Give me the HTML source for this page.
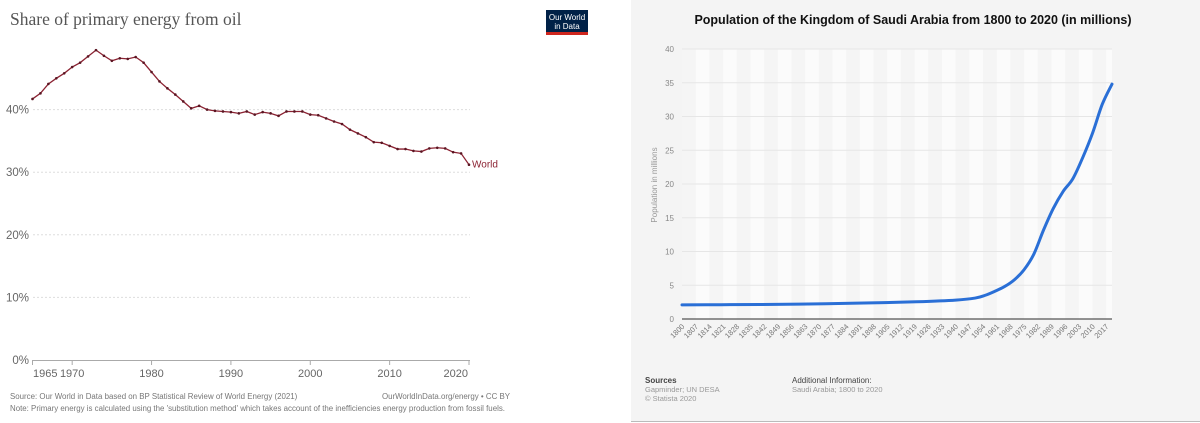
<!DOCTYPE html>
<html><head><meta charset="utf-8">
<style>
body{margin:0;width:1200px;height:423px;overflow:hidden;background:#fff;font-family:"Liberation Sans",sans-serif}
svg{position:absolute;left:0;top:0}
</style></head>
<body>
<svg width="1200" height="423" viewBox="0 0 1200 423">
<g id="left">
  <text x="10" y="25" font-family="Liberation Serif,serif" font-size="17.5" fill="#555">Share of primary energy from oil</text>
  <g>
    <rect x="546" y="10" width="42" height="25" fill="#002147"/>
    <rect x="546" y="32" width="42" height="3" fill="#ce261e"/>
    <text x="567" y="20" font-size="8" fill="#fff" text-anchor="middle">Our World</text>
    <text x="567" y="29" font-size="8" fill="#fff" text-anchor="middle">in Data</text>
  </g>
  <g id="lgrid"></g>
  <g id="lxt"></g>
  <path id="lline" fill="none" stroke="#8b2232" stroke-width="1.3"/>
  <g id="ldots"></g>
  <text id="llab" font-size="10" fill="#8b2232">World</text>
  <text x="10" y="399" font-size="7.9" fill="#777">Source: Our World in Data based on BP Statistical Review of World Energy (2021)</text>
  <text x="510" y="399" font-size="7.9" fill="#777" text-anchor="end">OurWorldInData.org/energy • CC BY</text>
  <text x="10" y="411" font-size="7.9" fill="#777">Note: Primary energy is calculated using the 'substitution method' which takes account of the inefficiencies energy production from fossil fuels.</text>
</g>
<g id="right">
  <rect x="631" y="0" width="569" height="421" fill="#f4f4f4"/>
  <line x1="631" y1="421.5" x2="1200" y2="421.5" stroke="#bbb"/>
  <text x="913" y="24" font-size="12.5" font-weight="bold" fill="#111" text-anchor="middle">Population of the Kingdom of Saudi Arabia from 1800 to 2020 (in millions)</text>
  <g id="rbands"></g>
  <g id="rgrid"></g>
  <g id="rxt"></g>
  <path id="rline" fill="none" stroke="#2a6fd6" stroke-width="3" stroke-linejoin="round" stroke-linecap="round"/>
  <text transform="translate(657,185) rotate(-90)" font-size="8" fill="#999" text-anchor="middle">Population in millions</text>
  <text x="645" y="383" font-size="8" font-weight="bold" fill="#444">Sources</text>
  <text x="645" y="392" font-size="7.5" fill="#999">Gapminder; UN DESA</text>
  <text x="645" y="401" font-size="7.5" fill="#999">© Statista 2020</text>
  <text x="792" y="383" font-size="8" fill="#444">Additional Information:</text>
  <text x="792" y="392" font-size="7.5" fill="#999">Saudi Arabia; 1800 to 2020</text>
</g>
</svg>
<script>
const NS="http://www.w3.org/2000/svg";
function mk(tag,attrs,parent){const e=document.createElementNS(NS,tag);for(const k in attrs)e.setAttribute(k,attrs[k]);parent.appendChild(e);return e;}
// ---- Left chart data ----
const oilYears=[];for(let y=1965;y<=2020;y++)oilYears.push(y);
const oilShare=[41.7,42.6,44.1,45.0,45.8,46.8,47.5,48.5,49.5,48.6,47.8,48.2,48.1,48.4,47.5,46.0,44.5,43.4,42.4,41.3,40.2,40.6,40.0,39.8,39.7,39.6,39.4,39.7,39.2,39.6,39.4,39.0,39.7,39.7,39.7,39.2,39.1,38.6,38.1,37.7,36.8,36.2,35.6,34.8,34.7,34.2,33.7,33.7,33.4,33.3,33.8,33.9,33.8,33.2,33.0,31.2];
const oilYTicks=[0,10,20,30,40];
const oilXTicks=[1965,1970,1980,1990,2000,2010,2020];
// ---- Right chart data ----
const popYears=[1800,1820,1840,1860,1880,1900,1920,1940,1950,1955,1960,1965,1970,1975,1980,1985,1990,1995,2000,2005,2010,2015,2020];
const popValues=[2.1,2.12,2.15,2.2,2.3,2.4,2.55,2.8,3.1,3.5,4.1,4.8,5.8,7.3,9.6,13.2,16.4,18.9,20.8,23.9,27.5,31.8,34.8];
const popYTicks=[0,5,10,15,20,25,30,35,40];
const popXTicks=[];for(let y=1800;y<=2017;y+=7)popXTicks.push(y);

// left axes
const lx=y=>32.5+(y-1965)*(469-32.5)/55;
const ly=v=>360-v*6.26;
const lg=document.getElementById('lgrid');
oilYTicks.forEach(t=>{
  if(t>0){const l=mk('line',{x1:33,x2:470,y1:ly(t),y2:ly(t),stroke:'#ddd','stroke-dasharray':'2,2'},lg);
  
  }
  const tx=mk('text',{x:29,y:ly(t)+4,'font-size':11.5,fill:'#666','text-anchor':'end'},lg);tx.textContent=t+'%';
  
  
});
const lxt=document.getElementById('lxt');
const ax=mk('line',{x1:33,x2:470,y1:360.5,y2:360.5,stroke:'#aaa'},lxt);


oilXTicks.forEach(t=>{
  mk('line',{x1:lx(t),x2:lx(t),y1:360,y2:365,stroke:'#aaa'},lxt);
  const anchor=t===2020?'end':(t===1965?'start':'middle');
  const tx=mk('text',{x:t===1965?lx(t)+0.5:(t===2020?lx(t)-1:lx(t)),y:377,'font-size':11,fill:'#666','text-anchor':anchor},lxt);tx.textContent=t;
  
  
});
let d='';const ld=document.getElementById('ldots');
oilYears.forEach((y,i)=>{d+=(i?'L':'M')+lx(y)+' '+ly(oilShare[i]);
  const c=mk('circle',{cx:lx(y),cy:ly(oilShare[i]),r:1.3,fill:'#5a1522'},ld);
  
  });
document.getElementById('lline').setAttribute('d',d);
const ll=document.getElementById('llab');const n=oilYears.length-1;
ll.setAttribute('x',lx(oilYears[n])+3);ll.setAttribute('y',ly(oilShare[n])+3);

// right axes
const x0=682,x1=1112;
const rx=y=>x0+(y-1800)*(x1-x0)/220;
const ry=v=>319-v*6.75;
const rb=document.getElementById('rbands');
mk('rect',{x:x0,y:ry(40),width:x1-x0,height:ry(0)-ry(40),fill:'#fbfbfb'},rb);
popXTicks.forEach((t,i)=>{if(i%2===0){const r=mk('rect',{x:rx(t),y:ry(40),width:rx(t+7)-rx(t),height:ry(0)-ry(40),fill:'#f5f5f5'},rb);
  
  }});
const rg=document.getElementById('rgrid');
popYTicks.forEach(t=>{
  const l=mk('line',{x1:x0,x2:x1,y1:ry(t),y2:ry(t),stroke:t===0?'#555':'#e6e6e6','stroke-width':t===0?1.3:1},rg);
  
  
  const tx=mk('text',{x:674,y:ry(t)+3,'font-size':8,fill:'#888','text-anchor':'end'},rg);tx.textContent=t;
  
  
});
const rxt=document.getElementById('rxt');
popXTicks.forEach(t=>{
  const tx=mk('text',{transform:`translate(${rx(t)+3},327) rotate(-45)`,'font-size':7.5,fill:'#777','text-anchor':'end'},rxt);tx.textContent=t;
  
  
});
// smooth line (catmull-rom)
const P=popYears.map((y,i)=>[rx(y),ry(popValues[i])]);
let rd='M'+P[0][0]+' '+P[0][1];
for(let i=0;i<P.length-1;i++){const p0=P[Math.max(0,i-1)],p1=P[i],p2=P[i+1],p3=P[Math.min(P.length-1,i+2)];
  rd+=`C${p1[0]+(p2[0]-p0[0])/6} ${p1[1]+(p2[1]-p0[1])/6} ${p2[0]-(p3[0]-p1[0])/6} ${p2[1]-(p3[1]-p1[1])/6} ${p2[0]} ${p2[1]}`;}
document.getElementById('rline').setAttribute('d',rd);
</script>
</body></html>
